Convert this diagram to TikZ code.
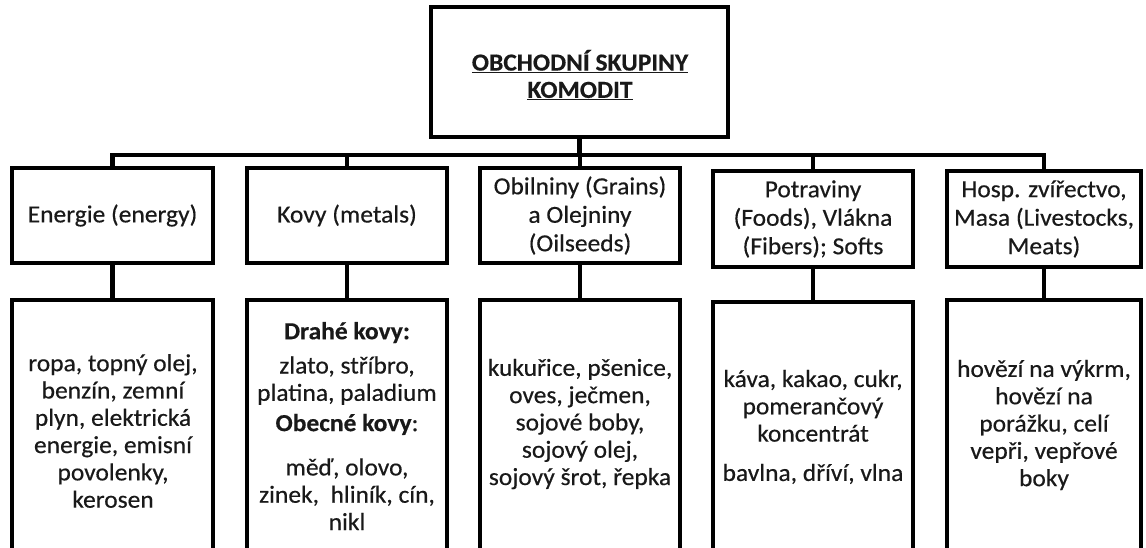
\documentclass[tikz,border=0pt]{standalone}
\usepackage{fontspec}
\setmainfont{Carlito}[FakeStretch=1.04, FakeBold=0.4]
\definecolor{txtc}{RGB}{25,25,25}
\begin{document}
\begin{tikzpicture}[x=1pt,y=-1pt,
  box/.style={draw=black, line width=4.5pt, fill=white, inner sep=0pt, outer sep=0pt,
    align=center, text=txtc, font=\fontsize{24.5}{28.5}\selectfont},
  txt/.style={align=center, inner sep=0pt, text=txtc, font=\fontsize{24.5}{27.3}\selectfont},
  wire/.style={draw=black, line width=4.5pt, line join=miter}]
\useasboundingbox (0,0) rectangle (1146,547);
\clip (0,0) rectangle (1146,547);
\fill[white] (0,0) rectangle (1146,547);
% top
\node[box, minimum width=297pt, minimum height=130pt] (top) at (579.5,72) {};
\node[txt, font=\fontsize{24.5}{27.3}\selectfont\bfseries] (toptxt) at (580,75)
  {\underline{OBCHODNÍ SKUPINY}\\\underline{KOMODIT}};
% level 2
\node[box, minimum width=201pt, minimum height=95pt] (b1) at (112.5,215.5) {Energie (energy)};
\node[box, minimum width=200pt, minimum height=95pt] (b2) at (347,215.5) {Kovy (metals)};
\node[box, minimum width=200pt, minimum height=95pt] (b3) at (580,215.5) {Obilniny (Grains)\\a Olejniny\\(Oilseeds)};
\node[box, minimum width=200pt, minimum height=96pt] (b4) at (813,219) {Potraviny\\(Foods), Vlákna\\(Fibers); Softs};
\node[box, minimum width=194pt, minimum height=96pt] (b5) at (1044,219) {Hosp. zvířectvo,\\Masa (Livestocks,\\Meats)};
% level 3 boxes
\node[box, minimum width=201pt, minimum height=300pt] (c1) at (112.5,450) {};
\node[box, minimum width=200pt, minimum height=300pt] (c2) at (347,450) {};
\node[box, minimum width=200pt, minimum height=300pt] (c3) at (580,450) {};
\node[box, minimum width=200pt, minimum height=300pt] (c4) at (813,452) {};
\node[box, minimum width=194pt, minimum height=300pt] (c5) at (1044,450) {};
% level 3 texts
\node[txt] (t1) at (113,431) {ropa, topný olej,\\benzín, zemní\\plyn, elektrická\\energie, emisní\\povolenky,\\kerosen};
\node[txt] (t2) at (347,426) {\textbf{Drahé kovy:}\\[7pt]zlato, stříbro,\\platina, paladium\\[3pt]\textbf{Obecné kovy}:\\[17pt]měď, olovo,\\zinek,\ \ hliník, cín,\\nikl};
\node[txt] (t3) at (580,424) {kukuřice, pšenice,\\oves, ječmen,\\sojové boby,\\sojový olej,\\sojový šrot, řepka};
\node[txt] (t4) at (813,427) {káva, kakao, cukr,\\pomerančový\\koncentrát\\[12pt]bavlna, dříví, vlna};
\node[txt] (t5) at (1044,425) {hovězí na výkrm,\\hovězí na\\porážku, celí\\vepři, vepřové\\boky};
% connectors
\coordinate (bus) at (580,155);
\draw[wire] (top.south) -- (top.south |- bus);
\draw[wire] (b1.north) -- (b1.north |- bus) -- (b5.north |- bus) -- (b5.north);
\draw[wire] (b2.north) -- (b2.north |- bus);
\draw[wire] (b3.north) -- (b3.north |- bus);
\draw[wire] (b4.north) -- (b4.north |- bus);
\draw[wire] (b1.south) -- (c1.north);
\draw[wire] (b2.south) -- (c2.north);
\draw[wire] (b3.south) -- (c3.north);
\draw[wire] (b4.south) -- (c4.north);
\draw[wire] (b5.south) -- (c5.north);
\end{tikzpicture}
\end{document}
